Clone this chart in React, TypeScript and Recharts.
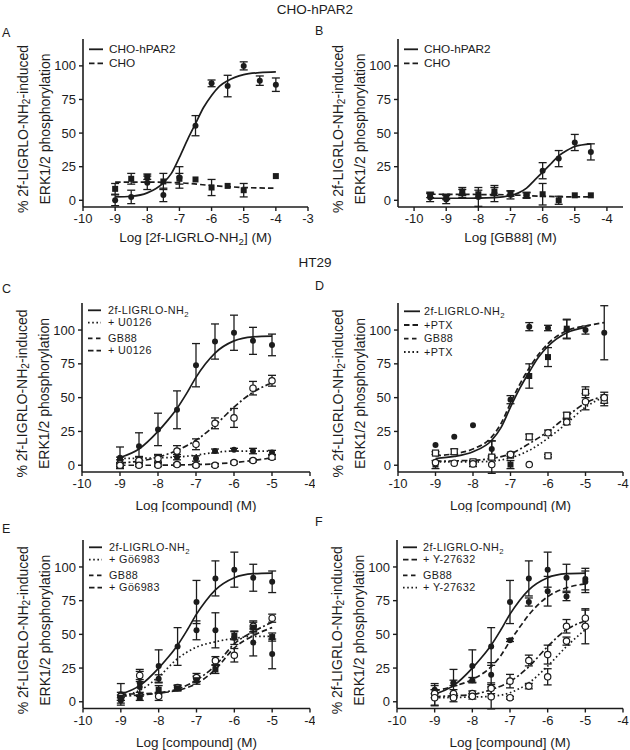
import React from 'react';
import { ComposedChart, Line, Scatter, XAxis, YAxis, ErrorBar, Legend } from 'recharts';

const FONT = '"Liberation Sans", Arial, Helvetica, sans-serif';
const INK = '#1c1c1c';

// ---------------- Panel A : CHO-hPAR2, 2f-LIGRLO-NH2 ----------------
const A_DOSE = [-9, -8.5, -8, -7.5, -7, -6.5, -6, -5.5, -5, -4.5, -4];
const A_PAR2_MEAN = [0, 2.5, 13, 4, 17, 55.5, 87, 85, 100, 89, 86];
const A_PAR2_SEM = [4, 5, 5, 5, 8, 7.5, 2.5, 8, 3, 3.5, 5];
const A_CHO_MEAN = [8.5, 16, 17.5, 14, 16, 15.5, 9.5, 10.7, 7.5, null, 18];
const A_CHO_SEM = [4, 4, 2, 6, 4, 0, 6, 0, 5, 0, 0];
const A_PAR2_FIT_X = [-9, -8.5, -8, -7.5, -7.25, -7, -6.75, -6.5, -6.25, -6, -5.75, -5.5, -5, -4.5, -4];
const A_PAR2_FIT_Y = [2.5, 3, 5.5, 13, 20, 32, 45, 57, 69, 78, 85, 89, 93.5, 95, 95.5];
const A_CHO_FIT_X = [-9, -8, -7, -6, -5, -4];
const A_CHO_FIT_Y = [13.5, 13.5, 13, 11, 9.5, 9];

// ---------------- Panel B : CHO-hPAR2, GB88 ----------------
const B_DOSE = [-9.5, -9, -8.5, -8, -7.5, -7, -6.5, -6, -5.5, -5, -4.5];
const B_PAR2_MEAN = [2, 0.5, 5, 2.5, 5, 4, 4, 22, 31, 43, 36];
const B_PAR2_SEM = [3, 3, 3, 7, 6, 3, 2, 6, 6, 6, 6];
const B_CHO_MEAN = [4, 2.5, 6.5, 4.5, 6.5, 5, 3.5, 4.5, 0, 3.7, 3.7];
const B_CHO_SEM = [2, 2, 3, 3, 3, 2, 2, 8, 3, 0, 0];
const B_PAR2_FIT_X = [-9.5, -8.5, -7.5, -7, -6.75, -6.5, -6.25, -6, -5.75, -5.5, -5.25, -5, -4.5];
const B_PAR2_FIT_Y = [1.5, 1.5, 2, 3.5, 5.5, 9, 15, 21, 27, 33, 37, 40, 42];
const B_CHO_FIT_X = [-9.5, -8, -7, -6, -5, -4.5];
const B_CHO_FIT_Y = [4.5, 4.3, 4, 3, 2.5, 2.5];

// ---------------- HT29 shared ----------------
const HT_DOSE = [-9, -8.5, -8, -7.5, -7, -6.5, -6, -5.5, -5];
const AGONIST_MEAN = [5.5, 14, 26.5, 41, 74, 91.5, 98, 92, 89];
const AGONIST_SEM = [8, 10, 12, 14, 16, 13, 13, 10, 8];
const AGONIST_FIT_X = [-9, -8.5, -8, -7.75, -7.5, -7.25, -7, -6.75, -6.5, -6, -5.5, -5];
const AGONIST_FIT_Y = [5.7, 12, 25, 33, 42, 53, 65, 75, 83, 92, 95, 95.5];

// ---------------- Panel C : U0126 ----------------
const C_U0126_MEAN = [4, 4, 5, 6, 5, 10.5, 11.5, 10.5, 9.5];
const C_U0126_SEM = [2, 2, 2, 2, 2, 1.5, 1, 2, 1.5];
const C_GB88_MEAN = [1, 3.5, 5, 10.5, 15.5, 31, 35, 57, 62.5];
const C_GB88_SEM = [3, 3, 3, 4, 4, 4, 7, 5, 4];
const C_GB88_U0126_MEAN = [0, 0, 0, 0.5, 0, 0, 2, 3.5, 6];
const C_GB88_U0126_SEM = [1, 1, 1, 1, 1, 1, 1, 1, 1.5];
const C_LOW_FIT_X = [-9, -8, -7.5, -7, -6.5, -6, -5.5, -5];
const C_U0126_FIT_Y = [5, 5.5, 6, 7.5, 9.5, 10.5, 10.5, 10.5];
const C_GB88_FIT_Y = [1.7, 3, 6, 11, 18.5, 29.5, 43, 54, 61];
const C_GB88_U0126_FIT_Y = [0, 0, 0.2, 0.5, 1, 2, 3.5, 5.5];

// ---------------- Panel D : PTX ----------------
const D_DOSE = [-9, -8.5, -8, -7.5, -7, -6.5, -6, -5.5, -5, -4.5];
const D_AG_MEAN = [15, 21, 29.5, 12, 48.5, 102.5, 101.5, 100.5, 100, 98];
const D_AG_SEM = [0, 0, 0, 6, 3, 3, 2, 7, 3, 20];
const D_AG_PTX_MEAN = [0.5, null, 1, 6, 0.5, 66, 80, 101, null, null];
const D_AG_PTX_SEM = [3, 0, 2, 12, 3, 9, 7, 7, 0, 0];
const D_GB88_MEAN = [9, 10, 2.5, 6, 7.5, 21, 7, 37, 54, 48];
const D_GB88_SEM = [1, 2, 1, 1, 1, 2, 1, 2, 4, 4];
const D_GB88_PTX_MEAN = [2, 1.5, 1, 0.5, 8, 0.5, 24, 32, 47, 50];
const D_GB88_PTX_SEM = [0, 0, 0, 0, 0, 0, 2, 2, 6, 4];
const D_AG_FIT_X = [-9, -8.5, -8, -7.5, -7.25, -7, -6.75, -6.5, -6.25, -6, -5.5, -5];
const D_AG_FIT_Y = [5, 6.5, 10, 18.5, 28, 43, 57, 69, 80, 88, 98, 102];
const D_AG_PTX_FIT_X = [-9, -8.5, -8, -7.5, -7.25, -7, -6.75, -6.5, -6.25, -6, -5.5, -5, -4.5];
const D_AG_PTX_FIT_Y = [7, 8.5, 12, 21, 31, 46, 60, 72, 82, 90, 99.5, 103, 105.5];
const D_GB_FIT_X = [-9, -8, -7.5, -7, -6.5, -6, -5.5, -5, -4.5];
const D_GB88_FIT_Y = [3, 3.7, 5, 8.5, 16, 25, 36, 46, 51];
const D_GB88_PTX_FIT_Y = [2.5, 2.5, 3, 5.5, 11, 20, 31, 43, 50.5];

// ---------------- Panel E : Go6983 ----------------
const E_GO_MEAN = [1, 11, 17, null, 53, 53, 47.5, 44, 35.5];
const E_GO_SEM = [2, 4, 3, 0, 7, 13, 5, 10, 11];
const E_GB88_MEAN = [4, 19.5, 4, 10.5, 18, 30.5, 34.5, 56, 62];
const E_GB88_SEM = [3, 3, 3, 2, 3, 3, 5, 4, 3];
const E_GB88_GO_MEAN = [3, 3, 9, 10, 16, 24, 49, 55, 48];
const E_GB88_GO_SEM = [2, 2, 3, 2, 3, 3, 3, 4, 3];
const E_GO_FIT_Y = [4, 8.5, 18.5, 32, 40.5, 44.5, 47, 48.5, 48.5];
const E_GB88_FIT_Y = [4, 5, 6.5, 9.5, 16, 27, 43, 52, 59];
const E_GB88_GO_FIT_Y = [5.5, 6, 6.5, 8.5, 13.5, 24, 40, 49, 55];

// ---------------- Panel F : Y-27632 ----------------
const F_Y_MEAN = [9, 14, 16, 20, 45.7, 74, 82, 78, 91];
const F_Y_SEM = [3, 2, 2, 9, 1, 3, 11, 3, 8];
const F_GB88_MEAN = [6, 6, 6, 10, 15.3, 30.6, 35, 56, 62];
const F_GB88_SEM = [3, 3, 2, 4, 5, 4, 7, 5, 6];
const F_GB88_Y_MEAN = [3, 3, 4, 3.7, 3, 11.6, 18.5, 45, 56];
const F_GB88_Y_SEM = [6, 3, 2, 9, 1, 2, 6, 3, 13];
const F_Y_FIT_X = [-9, -8.5, -8, -7.5, -7.25, -7, -6.75, -6.5, -6, -5.5, -5];
const F_Y_FIT_Y = [8, 11.5, 16.5, 26, 34, 45, 55, 64.5, 78, 84.5, 87.5];
const F_GB88_FIT_Y = [3.7, 4.5, 5.4, 9, 15, 26, 41, 53.5, 60];
const F_GB88_Y_FIT_Y = [3, 3.2, 3.5, 4, 6.7, 14, 26.5, 41, 53.5];

// ---------------- axis ticks ----------------
const Y_TICKS = [0, 25, 50, 75, 100];
const Y_DOMAIN = [-5, 120];
const X_TICKS_A = [-10, -9, -8, -7, -6, -5, -4, -3];
const X_TICKS_HT = [-10, -9, -8, -7, -6, -5, -4];

// ---------------- helpers ----------------
type Pt = { x: number; y: number; e: number };
type FitPt = { x: number; y: number };

function pts(xs: number[], ys: (number | null)[], es: number[]): Pt[] {
  const out: Pt[] = [];
  xs.forEach((x, i) => {
    const y = ys[i];
    if (y !== null && y !== undefined) out.push({ x, y, e: es[i] });
  });
  return out;
}
function fit(xs: number[], ys: number[]): FitPt[] {
  return xs.map((x, i) => ({ x, y: ys[i] }));
}

const DASH = {
  solid: undefined as string | undefined,
  long: '5.5 3',
  dotted: '1.6 2.6',
  dashdot: '6 2.5 2 2.5',
  short: '4.5 3.5',
};

type MarkerKind = 'dot' | 'square' | 'ring' | 'box';

function markerShape(kind: MarkerKind) {
  return (p: any) => {
    const cx = p.cx;
    const cy = p.cy;
    if (cx == null || cy == null) return <g />;
    if (kind === 'dot') return <circle cx={cx} cy={cy} r={3} fill={INK} />;
    if (kind === 'square') return <rect x={cx - 3} y={cy - 3} width={6} height={6} fill={INK} />;
    if (kind === 'ring')
      return <circle cx={cx} cy={cy} r={3.2} fill="#fff" stroke={INK} strokeWidth={1.2} />;
    return <rect x={cx - 3} y={cy - 3} width={6} height={6} fill="#fff" stroke={INK} strokeWidth={1.2} />;
  };
}

const NH2 = (pre: string, post?: string, size = 12) => (
  <>
    <tspan>{pre}</tspan>
    <tspan dy={2.5} fontSize={size * 0.72}>
      2
    </tspan>
    {post ? <tspan dy={-2.5}>{post}</tspan> : null}
  </>
);

interface SeriesDef {
  key: string;
  legend: React.ReactNode;
  marker: MarkerKind;
  points: Pt[];
  fit: FitPt[];
  dash?: string;
  legendDash?: string;
}

interface PanelDef {
  key: string;
  box: { x: number; y: number; w: number; h: number };
  margin: { top: number; right: number; bottom: number; left: number };
  xAxisH: number;
  xDomain: number[];
  xTicks: number[];
  xLabel: React.ReactNode;
  xLabelGap: number;
  legendRows: number[];
  sampleLen: number;
  series: SeriesDef[];
}

const Y_W = 30;

const agonistLegend = NH2('2f-LIGRLO-NH', undefined, 10.8);
const ROWS4 = [7.3, 19.6, 35.3, 47.6];

const PANELS: PanelDef[] = [
  {
    key: 'A',
    box: { x: 0, y: 0, w: 315, h: 250 },
    margin: { top: 39, right: 7, bottom: 3, left: 53 },
    xAxisH: 40,
    xDomain: [-10, -3],
    xTicks: X_TICKS_A,
    xLabel: NH2('Log [2f-LIGRLO-NH', '] (M)', 13.5),
    xLabelGap: 35,
    legendRows: [10.3, 24.3],
    sampleLen: 14,
    series: [
      {
        key: 'par2',
        legend: 'CHO-hPAR2',
        marker: 'dot',
        points: pts(A_DOSE, A_PAR2_MEAN, A_PAR2_SEM),
        fit: fit(A_PAR2_FIT_X, A_PAR2_FIT_Y),
        dash: DASH.solid,
      },
      {
        key: 'cho',
        legend: 'CHO',
        marker: 'square',
        points: pts(A_DOSE, A_CHO_MEAN, A_CHO_SEM),
        fit: fit(A_CHO_FIT_X, A_CHO_FIT_Y),
        dash: DASH.long,
      },
    ],
  },
  {
    key: 'B',
    box: { x: 315, y: 0, w: 315, h: 250 },
    margin: { top: 39, right: 7, bottom: 3, left: 53 },
    xAxisH: 40,
    xDomain: [-10.5, -3.5],
    xTicks: X_TICKS_HT,
    xLabel: 'Log [GB88] (M)',
    xLabelGap: 35,
    legendRows: [10.3, 24.3],
    sampleLen: 14,
    series: [
      {
        key: 'par2',
        legend: 'CHO-hPAR2',
        marker: 'dot',
        points: pts(B_DOSE, B_PAR2_MEAN, B_PAR2_SEM),
        fit: fit(B_PAR2_FIT_X, B_PAR2_FIT_Y),
        dash: DASH.solid,
      },
      {
        key: 'cho',
        legend: 'CHO',
        marker: 'square',
        points: pts(B_DOSE, B_CHO_MEAN, B_CHO_SEM),
        fit: fit(B_CHO_FIT_X, B_CHO_FIT_Y),
        dash: DASH.long,
      },
    ],
  },
  {
    key: 'C',
    box: { x: 0, y: 250, w: 315, h: 262 },
    margin: { top: 53, right: 5, bottom: 2, left: 52 },
    xAxisH: 38,
    xDomain: [-10, -4],
    xTicks: X_TICKS_HT,
    xLabel: 'Log [compound] (M)',
    xLabelGap: 38,
    legendRows: ROWS4,
    sampleLen: 13,
    series: [
      {
        key: 'ag',
        legend: agonistLegend,
        marker: 'dot',
        points: pts(HT_DOSE, AGONIST_MEAN, AGONIST_SEM),
        fit: fit(AGONIST_FIT_X, AGONIST_FIT_Y),
        dash: DASH.solid,
      },
      {
        key: 'agu',
        legend: '+ U0126',
        marker: 'dot',
        points: pts(HT_DOSE, C_U0126_MEAN, C_U0126_SEM),
        fit: fit(C_LOW_FIT_X, C_U0126_FIT_Y),
        dash: DASH.dotted,
      },
      {
        key: 'gb',
        legend: 'GB88',
        marker: 'ring',
        points: pts(HT_DOSE, C_GB88_MEAN, C_GB88_SEM),
        fit: fit(HT_DOSE, C_GB88_FIT_Y),
        dash: DASH.dashdot,
        legendDash: DASH.short,
      },
      {
        key: 'gbu',
        legend: '+ U0126',
        marker: 'ring',
        points: pts(HT_DOSE, C_GB88_U0126_MEAN, C_GB88_U0126_SEM),
        fit: fit(C_LOW_FIT_X, C_GB88_U0126_FIT_Y),
        dash: DASH.long,
      },
    ],
  },
  {
    key: 'D',
    box: { x: 315, y: 250, w: 315, h: 262 },
    margin: { top: 53, right: 7, bottom: 2, left: 53 },
    xAxisH: 38,
    xDomain: [-10, -4],
    xTicks: X_TICKS_HT,
    xLabel: 'Log [compound] (M)',
    xLabelGap: 38,
    legendRows: [8.3, 22, 35.6, 49],
    sampleLen: 16,
    series: [
      {
        key: 'ag',
        legend: agonistLegend,
        marker: 'dot',
        points: pts(D_DOSE, D_AG_MEAN, D_AG_SEM),
        fit: fit(D_AG_FIT_X, D_AG_FIT_Y),
        dash: DASH.solid,
      },
      {
        key: 'agp',
        legend: '+PTX',
        marker: 'square',
        points: pts(D_DOSE, D_AG_PTX_MEAN, D_AG_PTX_SEM),
        fit: fit(D_AG_PTX_FIT_X, D_AG_PTX_FIT_Y),
        dash: DASH.long,
      },
      {
        key: 'gb',
        legend: 'GB88',
        marker: 'box',
        points: pts(D_DOSE, D_GB88_MEAN, D_GB88_SEM),
        fit: fit(D_GB_FIT_X, D_GB88_FIT_Y),
        dash: DASH.dashdot,
        legendDash: DASH.short,
      },
      {
        key: 'gbp',
        legend: '+PTX',
        marker: 'ring',
        points: pts(D_DOSE, D_GB88_PTX_MEAN, D_GB88_PTX_SEM),
        fit: fit(D_GB_FIT_X, D_GB88_PTX_FIT_Y),
        dash: DASH.dotted,
      },
    ],
  },
  {
    key: 'E',
    box: { x: 0, y: 500, w: 315, h: 250 },
    margin: { top: 40, right: 5, bottom: 3.5, left: 53 },
    xAxisH: 38,
    xDomain: [-10, -4],
    xTicks: X_TICKS_HT,
    xLabel: 'Log [compound] (M)',
    xLabelGap: 38,
    legendRows: ROWS4,
    sampleLen: 13,
    series: [
      {
        key: 'ag',
        legend: agonistLegend,
        marker: 'dot',
        points: pts(HT_DOSE, AGONIST_MEAN, AGONIST_SEM),
        fit: fit(AGONIST_FIT_X, AGONIST_FIT_Y),
        dash: DASH.solid,
      },
      {
        key: 'ago',
        legend: '+ Gö6983',
        marker: 'dot',
        points: pts(HT_DOSE, E_GO_MEAN, E_GO_SEM),
        fit: fit(HT_DOSE, E_GO_FIT_Y),
        dash: DASH.dotted,
      },
      {
        key: 'gb',
        legend: 'GB88',
        marker: 'ring',
        points: pts(HT_DOSE, E_GB88_MEAN, E_GB88_SEM),
        fit: fit(HT_DOSE, E_GB88_FIT_Y),
        dash: DASH.dashdot,
        legendDash: DASH.short,
      },
      {
        key: 'gbo',
        legend: '+ Gö6983',
        marker: 'square',
        points: pts(HT_DOSE, E_GB88_GO_MEAN, E_GB88_GO_SEM),
        fit: fit(HT_DOSE, E_GB88_GO_FIT_Y),
        dash: DASH.long,
      },
    ],
  },
  {
    key: 'F',
    box: { x: 315, y: 500, w: 315, h: 250 },
    margin: { top: 40, right: 7, bottom: 3.5, left: 52 },
    xAxisH: 38,
    xDomain: [-10, -4],
    xTicks: X_TICKS_HT,
    xLabel: 'Log [compound] (M)',
    xLabelGap: 38,
    legendRows: ROWS4,
    sampleLen: 14,
    series: [
      {
        key: 'ag',
        legend: agonistLegend,
        marker: 'dot',
        points: pts(HT_DOSE, AGONIST_MEAN, AGONIST_SEM),
        fit: fit(AGONIST_FIT_X, AGONIST_FIT_Y),
        dash: DASH.solid,
      },
      {
        key: 'agy',
        legend: '+ Y-27632',
        marker: 'dot',
        points: pts(HT_DOSE, F_Y_MEAN, F_Y_SEM),
        fit: fit(F_Y_FIT_X, F_Y_FIT_Y),
        dash: DASH.long,
      },
      {
        key: 'gb',
        legend: 'GB88',
        marker: 'ring',
        points: pts(HT_DOSE, F_GB88_MEAN, F_GB88_SEM),
        fit: fit(HT_DOSE, F_GB88_FIT_Y),
        dash: DASH.dashdot,
        legendDash: DASH.short,
      },
      {
        key: 'gby',
        legend: '+ Y-27632',
        marker: 'ring',
        points: pts(HT_DOSE, F_GB88_Y_MEAN, F_GB88_Y_SEM),
        fit: fit(HT_DOSE, F_GB88_Y_FIT_Y),
        dash: DASH.dotted,
      },
    ],
  },
];

function Panel({ def }: { def: PanelDef }) {
  const { box, margin, xAxisH } = def;
  const plotLeft = margin.left + Y_W;
  const plotW = box.w - plotLeft - margin.right;
  const plotTop = margin.top;
  const plotH = box.h - margin.top - margin.bottom - xAxisH;
  const plotBottom = plotTop + plotH;
  const midY = plotTop + plotH / 2 + 6;
  const fourRows = def.series.length > 2;
  const legendFont = fourRows ? 10.8 : 11.8;

  const xLabelContent = () => (
    <text
      x={plotLeft + plotW / 2}
      y={plotBottom + def.xLabelGap}
      textAnchor="middle"
      fontFamily={FONT}
      fontSize={13.5}
      fill={INK}
    >
      {def.xLabel}
    </text>
  );

  const yLabelContent = () => {
    const x1 = plotLeft - 60;
    const x2 = plotLeft - 38;
    return (
      <g>
        <text
          x={x1}
          y={midY}
          dy="0.35em"
          transform={`rotate(-90, ${x1}, ${midY})`}
          textAnchor="middle"
          fontFamily={FONT}
          fontSize={14}
          fill={INK}
        >
          {NH2('% 2f-LIGRLO-NH', '-induced', 14)}
        </text>
        <text
          x={x2}
          y={midY}
          dy="0.35em"
          transform={`rotate(-90, ${x2}, ${midY})`}
          textAnchor="middle"
          fontFamily={FONT}
          fontSize={14}
          fill={INK}
        >
          ERK1/2 phosphorylation
        </text>
      </g>
    );
  };

  const legendContent = () => (
    <svg width={170} height={62} style={{ display: 'block', overflow: 'visible' }}>
      {def.series.map((s, i) => {
        const y = def.legendRows[i];
        const d = s.legendDash !== undefined ? s.legendDash : s.dash;
        return (
          <g key={s.key}>
            <line
              x1={0}
              x2={def.sampleLen}
              y1={y}
              y2={y}
              stroke={INK}
              strokeWidth={1.8}
              strokeDasharray={d}
            />
            <text
              x={20}
              y={y + 3.8}
              fontFamily={FONT}
              fontSize={legendFont}
              letterSpacing={fourRows ? 0.4 : 0}
              fill={INK}
            >
              {s.legend}
            </text>
          </g>
        );
      })}
    </svg>
  );

  return (
    <div style={{ position: 'absolute', left: box.x, top: box.y, width: box.w, height: box.h }}>
      <ComposedChart width={box.w} height={box.h} margin={margin}>
        <XAxis
          type="number"
          dataKey="x"
          domain={def.xDomain}
          ticks={def.xTicks}
          interval={0}
          allowDataOverflow
          height={xAxisH}
          tickSize={4}
          tickMargin={3}
          axisLine={{ stroke: INK, strokeWidth: 1.6 }}
          tickLine={{ stroke: INK, strokeWidth: 1.4 }}
          tick={{ fill: INK, fontSize: 13, fontFamily: FONT }}
          label={{ content: xLabelContent }}
        />
        <YAxis
          type="number"
          dataKey="y"
          domain={Y_DOMAIN}
          ticks={Y_TICKS}
          interval={0}
          allowDataOverflow
          width={Y_W}
          tickSize={4}
          tickMargin={3}
          axisLine={{ stroke: INK, strokeWidth: 1.6 }}
          tickLine={{ stroke: INK, strokeWidth: 1.4 }}
          tick={{ fill: INK, fontSize: 13, fontFamily: FONT }}
          label={{ content: yLabelContent }}
        />
        {def.series.map((s) => (
          <Line
            key={'fit-' + s.key}
            data={s.fit}
            dataKey="y"
            type="monotone"
            stroke={INK}
            strokeWidth={1.7}
            strokeDasharray={s.dash}
            dot={false}
            activeDot={false}
            legendType="none"
            isAnimationActive={false}
          />
        ))}
        {def.series.map((s) => (
          <Scatter
            key={'pts-' + s.key}
            data={s.points}
            dataKey="y"
            shape={markerShape(s.marker)}
            legendType="none"
            isAnimationActive={false}
          >
            <ErrorBar dataKey="e" direction="y" width={4} stroke={INK} strokeWidth={1.3} />
          </Scatter>
        ))}
        <Legend
          layout="horizontal"
          verticalAlign="middle"
          align="center"
          content={legendContent}
          wrapperStyle={{
            position: 'absolute',
            left: plotLeft + 6,
            top: plotTop,
            width: 170,
            height: 62,
          }}
        />
      </ComposedChart>
    </div>
  );
}

const LETTERS = [
  { t: 'A', x: 2, y: 36.7 },
  { t: 'B', x: 315, y: 35 },
  { t: 'C', x: 2, y: 292.7 },
  { t: 'D', x: 315, y: 290 },
  { t: 'E', x: 2, y: 533 },
  { t: 'F', x: 315, y: 526 },
];

export default function App() {
  return (
    <div
      style={{
        position: 'absolute',
        left: 0,
        top: 0,
        width: 630,
        height: 750,
        background: '#fff',
        overflow: 'hidden',
      }}
    >
      {PANELS.map((p) => (
        <Panel key={p.key} def={p} />
      ))}
      <svg
        width={630}
        height={750}
        style={{ position: 'absolute', left: 0, top: 0, pointerEvents: 'none' }}
      >
        <text x={315} y={13.5} textAnchor="middle" fontFamily={FONT} fontSize={13.5} fill={INK}>
          CHO-hPAR2
        </text>
        <text x={315} y={266.7} textAnchor="middle" fontFamily={FONT} fontSize={13.5} fill={INK}>
          HT29
        </text>
        {LETTERS.map((l) => (
          <text key={l.t} x={l.x} y={l.y} fontFamily={FONT} fontSize={12.5} fill={INK}>
            {l.t}
          </text>
        ))}
      </svg>
    </div>
  );
}
